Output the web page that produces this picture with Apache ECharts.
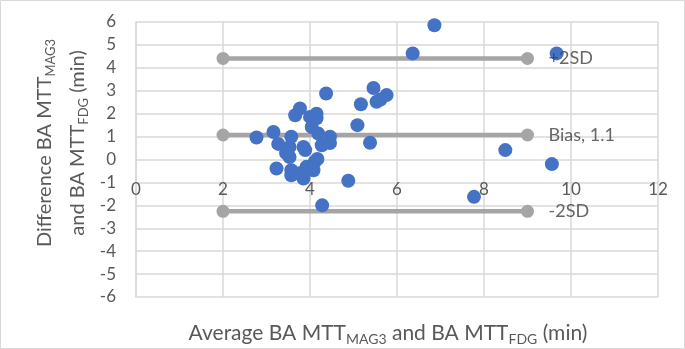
<!DOCTYPE html>
<html>
<head>
<meta charset="utf-8">
<script src="https://cdn.jsdelivr.net/npm/echarts@6/dist/echarts.min.js"></script>
<style>html,body{margin:0;padding:0;background:#fff}#c{width:685px;height:349px}</style>
</head>
<body>
<div id="c"></div>
<script>
// Data
const xTicks = [0, 2, 4, 6, 8, 10, 12];
const yTicks = [-6, -5, -4, -3, -2, -1, 0, 1, 2, 3, 4, 5, 6];
const averages = [2.77,3.16,3.27,3.23,3.53,3.57,3.53,3.45,3.57,3.57,3.66,3.77,3.85,3.89,3.92,3.85,3.75,4.00,4.04,4.15,4.15,4.19,4.08,4.11,4.17,4.27,4.46,4.46,4.28,4.37,4.88,5.09,5.17,5.38,5.46,5.53,5.62,5.76,6.36,6.86,7.77,8.49,9.56,9.67];
const differences = [0.96,1.20,0.68,-0.39,0.55,0.99,0.11,0.28,-0.47,-0.69,1.93,2.23,0.55,0.41,-0.32,-0.83,-0.60,1.86,1.42,2.00,1.80,1.13,-0.47,-0.10,0.02,0.62,0.99,0.72,-2.00,2.88,-0.93,1.50,2.41,0.73,3.12,2.52,2.62,2.81,4.63,5.86,-1.63,0.41,-0.20,4.63];
const limitNames = ['+2SD', 'Bias, 1.1', '-2SD'];
const limitValues = [4.41, 1.07, -2.26];
const limitRange = [2, 9];

const FONT = 'Lato, "Open Sans", sans-serif';
const chart = echarts.init(document.getElementById('c'));
const points = averages.map((a, i) => [a, differences[i]]);

const limitSeries = limitValues.map((v) => ({
  type: 'line',
  z: 1,
  data: [[limitRange[0], v], [limitRange[1], v]],
  symbol: 'circle',
  symbolSize: 13,
  showAllSymbol: true,
  lineStyle: {color: '#a5a5a5', width: 4.5},
  itemStyle: {color: '#a5a5a5', opacity: 1},
  emphasis: {disabled: true},
  silent: true
}));

const labelSeries = {
  type: 'scatter', z: 5, symbolSize: 0, silent: true,
  data: limitValues.map((v, i) => ({value: [limitRange[1], v], name: limitNames[i]})),
  label: {show: true, position: 'right', distance: 21, formatter: p => p.name, color: '#404040', fontSize: 18, fontFamily: FONT}
};

// the x axis labels sit at the zero line
const plotH = 349 - 22 - 52;
const zeroOffset = -plotH * (0 - yTicks[0]) / (yTicks[yTicks.length - 1] - yTicks[0]);

chart.setOption({
  animation: false,
  grid: {left: 136, right: 27, top: 22, bottom: 52},
  xAxis: {
    type: 'value', min: xTicks[0], max: xTicks[xTicks.length - 1], interval: 2,
    position: 'bottom', offset: zeroOffset,
    axisLine: {show: false, onZero: false},
    axisTick: {show: false},
    axisLabel: {margin: 22, color: '#595959', fontSize: 17, fontFamily: FONT},
    splitLine: {show: true, lineStyle: {color: '#d9d9d9', width: 1.5}}
  },
  yAxis: {
    type: 'value', min: yTicks[0], max: yTicks[yTicks.length - 1], interval: 1,
    axisLine: {show: true, lineStyle: {color: '#d9d9d9', width: 1.5}},
    axisTick: {show: false},
    axisLabel: {margin: 20, color: '#595959', fontSize: 17, fontFamily: FONT},
    splitLine: {show: true, lineStyle: {color: '#d9d9d9', width: 1.5}}
  },
  series: limitSeries.concat([{
    type: 'scatter', z: 3,
    data: points,
    symbolSize: 14,
    itemStyle: {color: '#4472c4', opacity: 1},
    silent: true
  }, labelSeries]),
  graphic: [
    {type: 'rect', shape: {x: 0.5, y: 0.5, width: 684, height: 348}, style: {fill: 'none', stroke: '#d9d9d9', lineWidth: 1}, silent: true, z: -1},
    {
      type: 'text', x: 388, y: 333, silent: true,
      style: {
        text: 'Average BA MTT{sub|MAG3} and BA MTT{sub|FDG} (min)',
        align: 'center', verticalAlign: 'middle',
        fill: '#595959', fontSize: 21, fontFamily: FONT,
        rich: {sub: {fontSize: 14, fill: '#595959', fontFamily: FONT, padding: [12, 0, 0, 0]}}
      }
    },
    {
      type: 'text', x: 61, y: 143, rotation: Math.PI / 2, silent: true,
      style: {
        text: 'Difference BA MTT{sub|MAG3}\nand BA MTT{sub|FDG} (min)',
        align: 'center', verticalAlign: 'middle', lineHeight: 33,
        fill: '#595959', fontSize: 20, fontFamily: FONT,
        rich: {sub: {fontSize: 13, fill: '#595959', fontFamily: FONT, padding: [12, 0, 0, 0]}}
      }
    }
  ]
});
</script>
</body>
</html>
